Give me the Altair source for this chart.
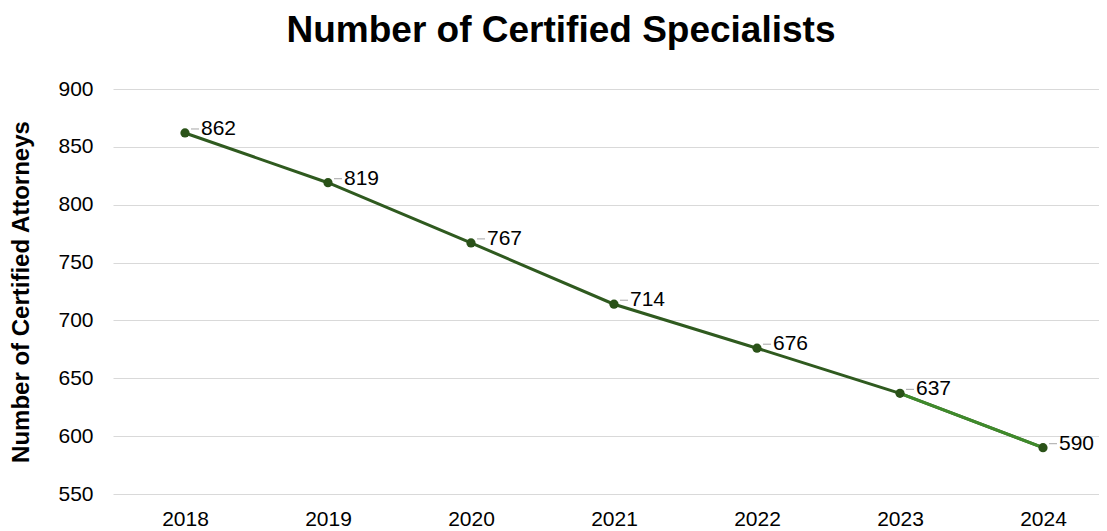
import altair as alt
import pandas as pd

years = ["2018", "2019", "2020", "2021", "2022", "2023", "2024"]
values = [862, 819, 767, 714, 676, 637, 590]

df = pd.DataFrame({"year": years, "value": values})
last = df.iloc[-2:].copy()

FONT = "Liberation Sans"

x = alt.X("year:O", title=None,
          scale=alt.Scale(type="point", padding=0.4476, align=0.5625),
          axis=alt.Axis(labelAngle=0, labelFontSize=21, labelColor="#000000",
                        labelFont=FONT, ticks=False, domain=False, grid=False,
                        labelPadding=14))
y = alt.Y("value:Q", title="Number of Certified Attorneys",
          scale=alt.Scale(domain=[550, 900], nice=False, zero=False),
          axis=alt.Axis(values=list(range(550, 901, 50)), labelFontSize=21,
                        labelColor="#000000", labelFont=FONT, ticks=False,
                        domain=False, gridColor="#d9d9d9", gridWidth=1,
                        labelPadding=20, titleFont=FONT, titleFontSize=24,
                        titleFontWeight="bold", titleColor="#000000",
                        titlePadding=24))

base = alt.Chart(df)

line = base.mark_line(color="#2f5a1f", strokeWidth=3).encode(x=x, y=y)
line_last = alt.Chart(last).mark_line(color="#3f8a2b", strokeWidth=3).encode(
    x="year:O", y="value:Q")
pts = base.mark_circle(color="#2a5218", size=85, opacity=1).encode(x="year:O", y="value:Q")
leader = base.mark_rule(color="#a6a6a6", strokeWidth=1, xOffset=6, x2Offset=14,
                        yOffset=-4, y2Offset=-4).encode(
    x="year:O", x2=alt.X2("year"), y="value:Q", y2=alt.Y2("value"))
labels = base.mark_text(align="left", baseline="middle", dx=16, dy=-4,
                        fontSize=21, font=FONT, color="#000000").encode(
    x="year:O", y="value:Q", text="value:Q")

chart = alt.layer(line, line_last, leader, pts, labels).properties(
    width=986, height=405,
    background="#ffffff",
    autosize=alt.AutoSizeParams(type="none"),
    padding={"left": 105, "top": 81, "right": 0, "bottom": 40},
    title=alt.TitleParams("Number of Certified Specialists", font=FONT,
                          fontSize=37, fontWeight="bold", color="#000000",
                          offset=28, anchor="middle", dx=-45),
).configure_view(stroke="transparent", strokeWidth=0).configure_axis(
    domain=False, ticks=False)

chart.save("out.html", embed_options={"renderer": "svg", "actions": False})
